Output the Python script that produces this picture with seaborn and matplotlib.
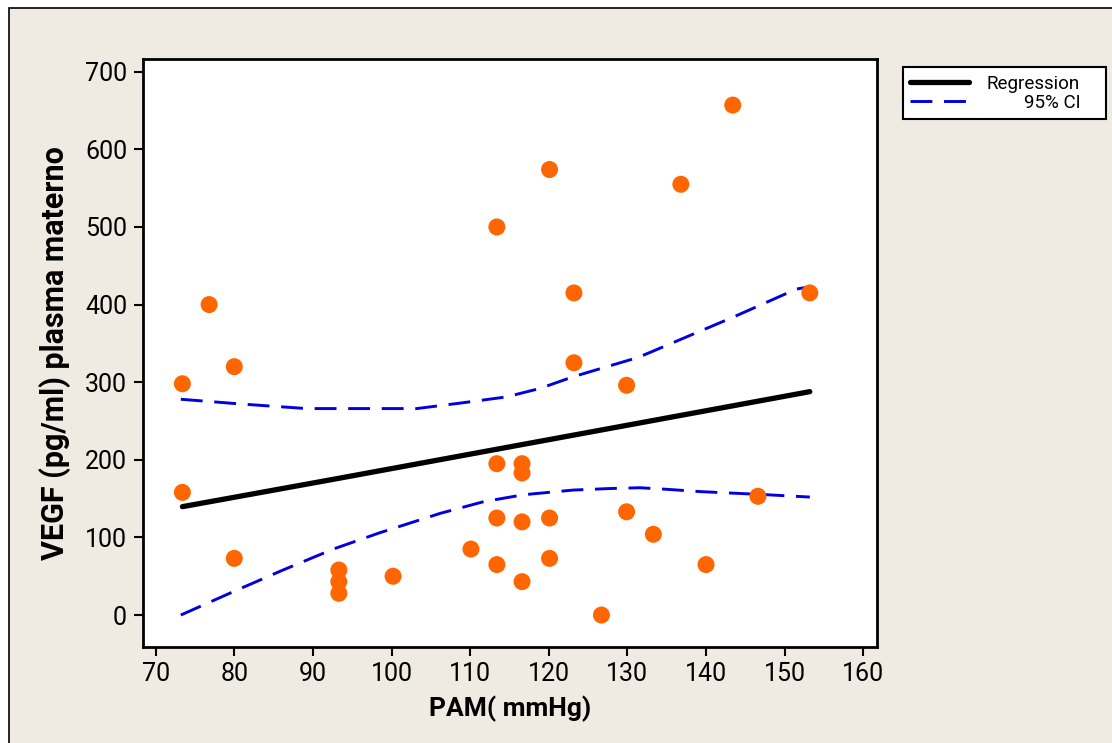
import numpy as np
import pandas as pd
import matplotlib
matplotlib.use('Agg')
import matplotlib.pyplot as plt
import seaborn as sns
from matplotlib.patches import Rectangle

# Data
pam = [73.4, 73.4, 80.0, 80.0, 76.8, 93.3, 93.3, 93.3, 100.2, 110.1,
       113.4, 113.4, 113.4, 116.6, 116.6, 116.6, 116.6, 120.1, 120.1, 123.2,
       126.7, 129.9, 129.9, 113.4, 120.1, 123.2, 143.4, 136.8, 153.2, 133.3,
       140.0, 146.6]
vegf = [298, 158, 320, 73, 400, 58, 43, 28, 50, 85,
        195, 125, 65, 195, 183, 120, 43, 125, 73, 325,
        0, 296, 133, 500, 574, 415, 657, 555, 415, 104,
        65, 153]

reg_x = [73.4, 92.4, 153.2]
reg_y = [139.6, 174.5, 287.8]

ci_up_x = [73.2, 80.7, 89.2, 103.2, 108.7, 114.6, 118.9, 123.1, 131.4, 143.5, 151.5, 153.2]
ci_up_y = [278, 272, 266, 266, 273, 281, 292, 307, 332, 384, 420, 423]

ci_lo_x = [73.2, 80.3, 86.2, 92.6, 98.5, 106.2, 111.7, 116.8, 123.1, 127.8, 131.6, 135.0, 139.3, 147.7, 153.2]
ci_lo_y = [0, 32, 58, 85, 106, 131, 146, 155, 161, 163, 164, 162, 159, 155, 152]

pts = pd.DataFrame({'PAM': pam, 'VEGF': vegf})
reg = pd.DataFrame({'x': reg_x, 'y': reg_y})
ci_up = pd.DataFrame({'x': ci_up_x, 'y': ci_up_y})
ci_lo = pd.DataFrame({'x': ci_lo_x, 'y': ci_lo_y})

bg = '#EFEBE2'
sns.set_style('ticks')
plt.rcParams['font.family'] = ['Roboto', 'DejaVu Sans']
plt.rcParams['text.color'] = 'black'
plt.rcParams['axes.labelcolor'] = 'black'
plt.rcParams['xtick.color'] = 'black'
plt.rcParams['ytick.color'] = 'black'

fig = plt.figure(figsize=(11.12, 7.43), dpi=100, facecolor='white')
# outer panel (Minitab-like frame)
fig.patches.append(Rectangle((9 / 1112, -0.1), 1.2, 1.1 - 8 / 743, transform=fig.transFigure,
                             facecolor=bg, edgecolor='black', linewidth=1.2, zorder=-10))

ax = fig.add_axes([0.1283, 0.1296, 0.6606, 0.7906])
ax.set_facecolor('white')

sns.lineplot(data=reg, x='x', y='y', ax=ax, color='black', linewidth=3.8,
             sort=False, estimator=None, label='Regression', zorder=3)
sns.lineplot(data=ci_up, x='x', y='y', ax=ax, color='#0000E0', linewidth=2.1,
             sort=False, estimator=None, label='95% CI', zorder=2)
sns.lineplot(data=ci_lo, x='x', y='y', ax=ax, color='#0000E0', linewidth=2.1,
             sort=False, estimator=None, zorder=2)
for ln in ax.lines[1:]:
    ln.set_dashes((7.5, 4))
sns.scatterplot(data=pts, x='PAM', y='VEGF', ax=ax, color='#FF6600', s=150,
                edgecolor='none', zorder=4)

ax.set_xlim(68.35, 161.78)
ax.set_ylim(-40.8, 716)
ax.set_xticks(range(70, 161, 10))
ax.set_yticks(range(0, 701, 100))
ax.tick_params(direction='out', length=6.2, width=1.5, labelsize=18, pad=5, color='black')
for sp in ax.spines.values():
    sp.set_visible(True)
    sp.set_linewidth(2)
    sp.set_color('black')

ax.set_xlabel('PAM( mmHg)', fontsize=19, fontweight='bold', labelpad=7)
ax.set_ylabel('VEGF (pg/ml) plasma materno', fontsize=22, fontweight='bold', labelpad=10)

leg = ax.legend(loc='upper left', bbox_to_anchor=(0.8118, 0.9094), bbox_transform=fig.transFigure,
                borderaxespad=0, fancybox=False, edgecolor='black', framealpha=1,
                fontsize=13.5, handlelength=3.15, handletextpad=1.9, borderpad=0.4,
                labelspacing=0.05)
leg.get_frame().set_linewidth(1.5)
for ln in leg.get_lines()[1:]:
    ln.set_dashes((7.5, 4))

# right-align legend texts, leaving extra room on the right of the box
fig.canvas.draw()
renderer = fig.canvas.get_renderer()
widths = [t.get_window_extent(renderer).width for t in leg.get_texts()]
for t, w in zip(leg.get_texts(), widths):
    t.set_position((max(widths) - w - 18, 0))

fig.savefig('out.png', dpi=100, facecolor='white')
